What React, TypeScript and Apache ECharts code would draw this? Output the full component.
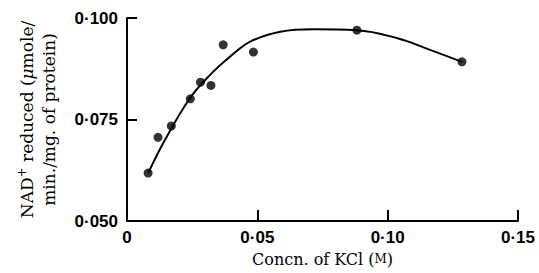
import React, { useEffect, useRef } from "react";
import * as echarts from "echarts";

// Measured points: KCl concentration (M) vs NAD+ reduced (µmole/min./mg. of protein)
const concX = [0.0081, 0.0119, 0.017, 0.0243, 0.0282, 0.0322, 0.0369, 0.0485, 0.0882, 0.1285];
const rateY = [0.0618, 0.0706, 0.0734, 0.0801, 0.0842, 0.0834, 0.0934, 0.0916, 0.097, 0.0892];

// Fitted curve drawn through the points
const curveX = [0.0082, 0.0146, 0.0242, 0.0319, 0.0396, 0.0473, 0.0588, 0.0715, 0.0881, 0.1038, 0.1165, 0.1285];
const curveY = [0.0619, 0.07, 0.0803, 0.086, 0.0905, 0.0942, 0.0966, 0.0972, 0.097, 0.095, 0.0921, 0.0892];

const xTicks = [0, 0.05, 0.1, 0.15];
const xTickLabels = ["0", "0·05", "0·10", "0·15"];
const yTicks = [0.05, 0.075, 0.1];
const yTickLabels = ["0·050", "0·075", "0·100"];

export default function App() {
  const ref = useRef<HTMLDivElement>(null);
  useEffect(() => {
    if (!ref.current) return;
    const chart = echarts.init(ref.current, null, { renderer: "svg" });
    const tickFont = { fontFamily: "Liberation Sans", fontSize: 17, fontWeight: "bold" as const, color: "#000" };
    const fmt = (ticks: number[], labels: string[]) => (v: number) => {
      const i = ticks.findIndex((t) => Math.abs(t - v) < 1e-9);
      return i >= 0 ? labels[i] : "";
    };
    const serif = "DejaVu Serif";
    chart.setOption({
      animation: false,
      backgroundColor: "#fff",
      grid: { left: 127, right: 21, top: 18, bottom: 52, containLabel: false },
      xAxis: {
        type: "value",
        min: 0,
        max: 0.15,
        interval: 0.05,
        splitLine: { show: false },
        axisLine: { show: true, onZero: false, lineStyle: { color: "#000", width: 2 } },
        axisTick: { show: true, inside: true, length: 11, lineStyle: { color: "#000", width: 2 } },
        axisLabel: { ...tickFont, margin: 8, formatter: fmt(xTicks, xTickLabels) },
        name: "{a|Concn. of KCl (}{s|M}{a|)}",
        nameLocation: "middle",
        nameGap: 30,
        nameTextStyle: {
          rich: {
            a: { fontFamily: serif, fontSize: 16, color: "#000" },
            s: { fontFamily: serif, fontSize: 12, color: "#000" },
          },
        },
      },
      yAxis: {
        type: "value",
        min: 0.05,
        max: 0.1,
        interval: 0.025,
        splitLine: { show: false },
        axisLine: { show: true, onZero: false, lineStyle: { color: "#000", width: 2 } },
        axisTick: { show: true, inside: true, length: 10, lineStyle: { color: "#000", width: 2 } },
        axisLabel: { ...tickFont, margin: 9, formatter: fmt(yTicks, yTickLabels) },
        name: "{a|NAD}{sup|+}{a| reduced (}{i|μ}{a|mole/}\n{a|min./mg. of protein)}",
        nameLocation: "middle",
        nameRotate: 90,
        nameGap: 67,
        nameTextStyle: {
          lineHeight: 22,
          rich: {
            a: { fontFamily: serif, fontSize: 17, color: "#000", lineHeight: 22 },
            i: { fontFamily: serif, fontSize: 17, fontStyle: "italic", color: "#000", lineHeight: 22 },
            sup: { fontFamily: serif, fontSize: 12, color: "#000", verticalAlign: "top", lineHeight: 22, padding: [0, 0, 8, 0] },
          },
        },
      },
      series: [
        {
          type: "line",
          data: curveX.map((x, i) => [x, curveY[i]]),
          smooth: 0.4,
          showSymbol: false,
          lineStyle: { color: "#000", width: 2 },
          z: 2,
        },
        {
          type: "scatter",
          data: concX.map((x, i) => [x, rateY[i]]),
          symbol: "circle",
          symbolSize: 9,
          itemStyle: { color: "#000" },
          z: 3,
        },
      ],
    });
    return () => chart.dispose();
  }, []);
  return <div ref={ref} style={{ width: 539, height: 273, position: "absolute", left: 0, top: 0 }} />;
}
